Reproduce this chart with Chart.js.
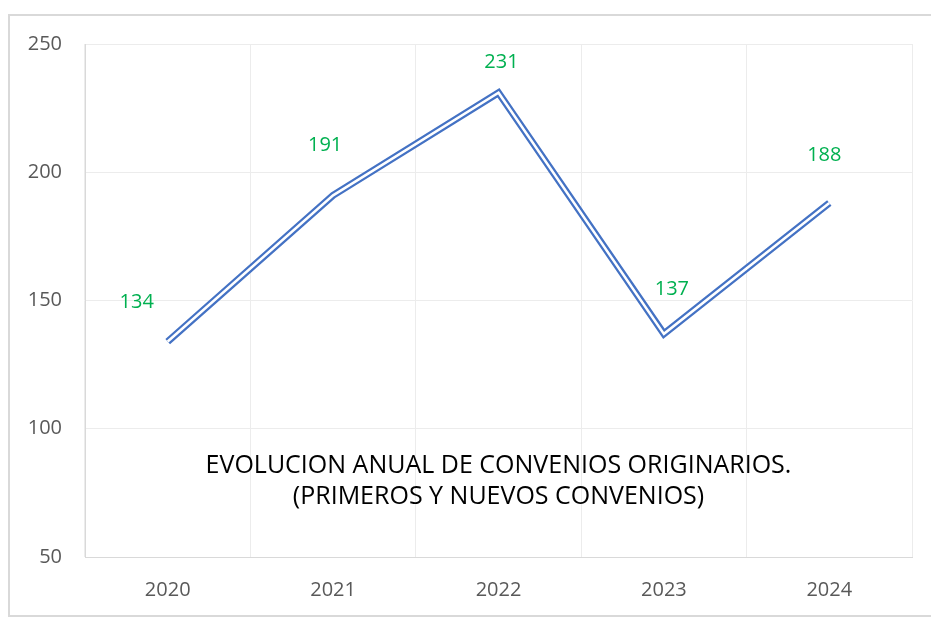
<!DOCTYPE html>
<html>
<head>
<meta charset="utf-8">
<script src="https://cdn.jsdelivr.net/npm/chart.js@4.4.0/dist/chart.umd.min.js"></script>
<style>
html,body{margin:0;padding:0;background:#fff;}
#wrap{position:relative;width:931px;height:623px;}
#frame{position:absolute;left:8px;top:14px;width:940px;height:603px;border:2px solid #d9d9d9;box-sizing:border-box;pointer-events:none;}
canvas{position:absolute;left:0;top:0;}
</style>
</head>
<body>
<div id="wrap">
<canvas id="c" width="931" height="623"></canvas>
<div id="frame"></div>
</div>
<script>
const categories = ['2020', '2021', '2022', '2023', '2024'];
const convenios = [134, 191, 231, 137, 188];
const yTicks = [50, 100, 150, 200, 250];
const titleLines = ['EVOLUCION ANUAL DE CONVENIOS ORIGINARIOS.', '(PRIMEROS Y NUEVOS CONVENIOS)'];

const FONT = '"Open Sans", "Noto Sans", sans-serif';

const labelPlugin = {
  id: 'pointLabels',
  afterDatasetsDraw(chart, args, opts) {
    const ctx = chart.ctx;
    const meta = chart.getDatasetMeta(0);
    ctx.save();
    ctx.fillStyle = '#00B050';
    ctx.font = '20px ' + FONT;
    ctx.textAlign = 'center';
    ctx.textBaseline = 'middle';
    meta.data.forEach((pt, i) => {
      const off = opts.offsets[i] || [0, -40];
      ctx.fillText(String(convenios[i]), pt.x + off[0], pt.y + off[1]);
    });
    ctx.restore();
  }
};

const titlePlugin = {
  id: 'innerTitle',
  afterDatasetsDraw(chart, args, opts) {
    const ctx = chart.ctx;
    const a = chart.chartArea;
    const cx = (a.left + a.right) / 2;
    ctx.save();
    ctx.fillStyle = '#000';
    ctx.font = opts.size + 'px ' + FONT;
    ctx.textAlign = 'center';
    ctx.textBaseline = 'middle';
    titleLines.forEach((t, i) => {
      ctx.fillText(t, cx, opts.y + i * opts.lineGap);
    });
    ctx.restore();
  }
};

new Chart(document.getElementById('c'), {
  type: 'line',
  data: {
    labels: categories,
    datasets: [
      {
        data: convenios,
        borderColor: '#4472C4',
        borderWidth: 7,
        pointRadius: 0,
        borderJoinStyle: 'miter',
        borderCapStyle: 'butt',
        fill: false,
        tension: 0,
        order: 2
      },
      {
        data: convenios,
        borderColor: '#ffffff',
        borderWidth: 2.5,
        pointRadius: 0,
        borderJoinStyle: 'miter',
        borderCapStyle: 'butt',
        fill: false,
        tension: 0,
        order: 1
      }
    ]
  },
  options: {
    responsive: false,
    animation: false,
    layout: { padding: { left: 0, top: 44, right: 19, bottom: 0 } },
    plugins: {
      legend: { display: false },
      tooltip: { enabled: false },
      title: { display: false },
      pointLabels: { offsets: [[-31, -39], [-8, -50], [3, -30], [8, -45], [-5, -48]] },
      innerTitle: { size: 25, y: 466, lineGap: 31 }
    },
    scales: {
      x: {
        offset: true,
        grid: { offset: true, color: '#ececec', lineWidth: 1, drawTicks: false },
        border: { color: '#d9d9d9', width: 1 },
        ticks: { color: '#595959', font: { family: FONT, size: 20 }, padding: 21 },
        afterFit(s) { s.height = 66; }
      },
      y: {
        min: 50,
        max: 250,
        afterBuildTicks(s) { s.ticks = yTicks.map(v => ({ value: v })); },
        grid: { color: '#ececec', lineWidth: 1, drawTicks: false },
        border: { color: '#d9d9d9', width: 1 },
        ticks: { color: '#595959', font: { family: FONT, size: 20 }, padding: 23 },
        afterFit(s) { s.width = 85; }
      }
    }
  },
  plugins: [labelPlugin, titlePlugin]
});
</script>
</body>
</html>
